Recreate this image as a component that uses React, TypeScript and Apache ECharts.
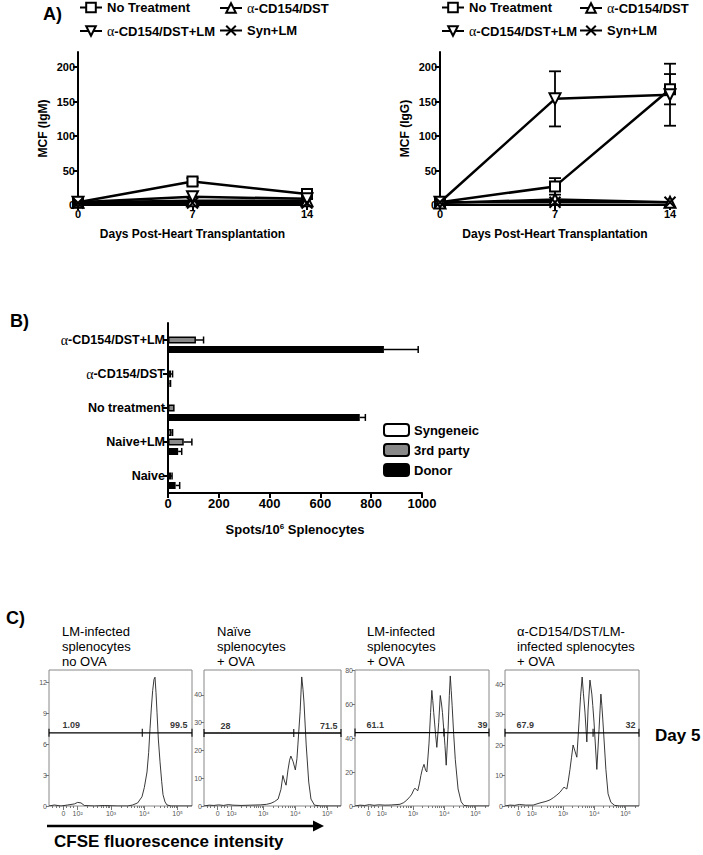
import React, { useEffect, useRef } from 'react';
import * as echarts from 'echarts';

const F = '"Liberation Sans", Arial, Helvetica, sans-serif';
const SERIF = '"Liberation Serif", "Times New Roman", serif';

// ---------- Panel A ----------
const daysA = [0, 7, 14];
const mcfTicks = [0, 50, 100, 150, 200];
const groupNames = ['No Treatment', 'α-CD154/DST', 'α-CD154/DST+LM', 'Syn+LM'];
const igmNoTreatment = [4, 34, 16];
const igmNoTreatmentErr = [0, 5, 3];
const igmCD154DST = [4, 6, 6];
const igmCD154DSTLM = [4, 12, 9];
const igmSynLM = [3, 3, 3];
const iggNoTreatment = [4, 27, 168];
const iggNoTreatmentErr = [0, 12, 22];
const iggCD154DST = [3, 8, 4];
const iggCD154DSTLM = [4, 154, 160];
const iggCD154DSTLMErr = [0, 40, 45];
const iggSynLM = [4, 4, 4];

// ---------- Panel B ----------
const elispotGroups = ['Naive', 'Naive+LM', 'No treatment', 'α-CD154/DST', 'α-CD154/DST+LM'];
const stimulators = ['Syngeneic', '3rd party', 'Donor'];
const syngeneic = [0, 14, 0, 0, 0];
const syngeneicErr = [0, 4, 0, 0, 0];
const thirdParty = [12, 62, 26, 12, 110];
const thirdPartyErr = [4, 32, 0, 6, 30];
const donor = [30, 40, 755, 6, 850];
const donorErr = [16, 14, 22, 4, 135];

// ---------- Panel C (x in log10 display units) ----------
const histTitles = [
  'LM-infected\nsplenocytes\nno OVA',
  'Naïve\nsplenocytes\n+ OVA',
  'LM-infected\nsplenocytes\n+ OVA',
  'α-CD154/DST/LM-\ninfected splenocytes\n+ OVA',
];
const histXMin = 1.14;
const histXMax = 5.43;
const histXTickPos = [1.57, 2, 3, 4, 5];
const histXTickLabels = ['0', '10²', '10³', '10⁴', '10⁵'];
const histYTicks = [
  [0, 3, 6, 9, 12],
  [0, 10, 20, 30, 40],
  [0, 20, 40, 60, 80],
  [0, 10, 20, 30, 40],
];
const histYMax = [13.2, 49, 80, 44.6];
const gateLevel = [7.1, 26.3, 43.2, 24];
const gateSplit = [3.94, 3.95, 3.99, 3.96];
const gateLeftPct = ['1.09', '28', '61.1', '67.9'];
const gateRightPct = ['99.5', '71.5', '39', '32'];

const histNoOVA = [[1.14,0],[1.3,0.1],[1.5,0],[1.7,0.1],[1.9,0.2],[2.0,0.35],[2.1,0.3],[2.2,0.05],[2.5,0],[2.8,0.05],[3.2,0],[3.5,0],[3.65,0.1],[3.8,0.3],[3.93,0.9],[4.0,1.8],[4.08,3.3],[4.13,5.2],[4.17,7.5],[4.21,9.5],[4.25,11.2],[4.29,12.3],[4.32,12.5],[4.35,11],[4.38,9.1],[4.42,6.5],[4.47,4.3],[4.52,2.4],[4.56,1.1],[4.62,0.4],[4.68,0.1],[4.8,0],[5.43,0]];
const histNaiveOVA = [[1.14,0],[1.3,0.3],[1.45,0.2],[1.6,0.4],[1.75,0.2],[1.9,0.5],[2.05,0.3],[2.3,0.2],[2.6,0.3],[2.9,0.4],[3.1,0.6],[3.24,1],[3.35,1.6],[3.46,2.5],[3.55,6],[3.61,11],[3.66,9],[3.71,7.5],[3.77,13],[3.82,16.5],[3.86,18],[3.93,16],[4.0,13],[4.05,17],[4.08,22],[4.15,34],[4.2,46.5],[4.24,42],[4.27,37.5],[4.34,22],[4.42,8.6],[4.49,2.5],[4.6,0.3],[4.8,0],[5.43,0]];
const histLMOVA = [[1.14,0],[1.3,0.5],[1.45,0.3],[1.6,0.8],[1.75,0.4],[1.9,0.7],[2.1,0.5],[2.3,0.6],[2.58,1],[2.7,2],[2.8,3.5],[2.9,5.5],[2.96,7],[3.02,9.5],[3.06,10.5],[3.11,9.5],[3.15,9],[3.2,13],[3.25,18],[3.3,22],[3.35,24.5],[3.4,21],[3.44,20],[3.51,37],[3.56,55],[3.6,68],[3.63,62],[3.66,55],[3.72,42],[3.76,34.5],[3.82,49],[3.87,65],[3.91,60],[3.94,55],[4.02,35.6],[4.06,24],[4.12,45],[4.16,65],[4.19,76.5],[4.22,68],[4.25,59],[4.3,42],[4.35,27.5],[4.44,10],[4.54,2.4],[4.63,0.3],[4.8,0],[5.43,0]];
const histCD154OVA = [[1.14,0],[1.3,0.3],[1.45,0.2],[1.6,0.5],[1.8,0.3],[2.04,0.3],[2.26,1],[2.45,1.5],[2.58,2],[2.7,2.8],[2.8,3.6],[2.9,4.5],[2.96,5.3],[3.03,6.2],[3.08,5.8],[3.12,5.6],[3.17,8.5],[3.22,12],[3.27,16],[3.32,20],[3.38,18],[3.44,16],[3.51,27.5],[3.56,36],[3.61,42.3],[3.65,37],[3.7,30.8],[3.76,21],[3.8,31.8],[3.86,41.3],[3.92,36.7],[3.95,33],[3.99,27.5],[4.08,12],[4.15,25],[4.21,36.7],[4.24,33],[4.27,28.5],[4.37,12],[4.44,4],[4.53,1.2],[4.65,0.2],[4.8,0],[5.43,0]];
const histograms = [histNoOVA, histNaiveOVA, histLMOVA, histCD154OVA];

// ---------- layout ----------
const histGrids = [
  { left: 49, width: 143 },
  { left: 204, width: 137 },
  { left: 355, width: 134 },
  { left: 505, width: 134 },
];
const histLabelInset = [[14, 4], [17, 3], [12, 1], [12, 3]];
const histTitleX = [62, 217, 367, 517];

const minorTicks: number[] = [1.25, 1.35, 1.45, 1.67, 1.77, 1.87];
for (let n = 2; n <= 5; n++) {
  for (let k = 2; k <= 9; k++) {
    const v = n + Math.log10(k);
    if (v < histXMax) minorTicks.push(v);
  }
}

const boldText = (size: number) => ({ fontFamily: F, fontWeight: 'bold' as const, fontSize: size, color: '#000' });
const fmtAlpha = (s: string) => s.replace('α', '{a|α}');
const alphaRich = (size: number) => ({ a: { fontFamily: SERIF, fontSize: size, fontWeight: 'normal', color: '#000' } });

const symbolsA = ['rect', 'triangle', 'triangle', 'path://M0,0L10,10M10,0L0,10'];
const rotA = [0, 0, 180, 0];

function lineSeriesA(k: number, values: number[], axisIdx: number) {
  return {
    type: 'line',
    name: groupNames[k],
    xAxisIndex: axisIdx,
    yAxisIndex: axisIdx,
    data: daysA.map((d, i) => [d, values[i]]),
    symbol: symbolsA[k],
    symbolRotate: rotA[k],
    symbolSize: k === 0 ? 10 : 11,
    clip: false,
    lineStyle: { color: '#000', width: 2.5 },
    itemStyle: { color: k === 3 ? '#000' : '#fff', borderColor: '#000', borderWidth: 2 },
    z: 3,
  };
}

function vErrSeries(axisIdx: number, values: number[], errs: number[]) {
  return {
    type: 'custom',
    xAxisIndex: axisIdx,
    yAxisIndex: axisIdx,
    encode: { x: 0, y: 1 },
    clip: false,
    z: 2,
    data: daysA.map((d, i) => [d, values[i], errs[i]]).filter((r) => r[2] > 0),
    renderItem: (_p: any, api: any) => {
      const x = api.value(0), y = api.value(1), e = api.value(2);
      const t = api.coord([x, y + e]);
      const b = api.coord([x, y - e]);
      const st = { stroke: '#000', lineWidth: 1.8 };
      return {
        type: 'group',
        children: [
          { type: 'line', shape: { x1: t[0], y1: t[1], x2: b[0], y2: b[1] }, style: st },
          { type: 'line', shape: { x1: t[0] - 6, y1: t[1], x2: t[0] + 6, y2: t[1] }, style: st },
          { type: 'line', shape: { x1: b[0] - 6, y1: b[1], x2: b[0] + 6, y2: b[1] }, style: st },
        ],
      };
    },
  };
}

function hErrSeries(values: number[], errs: number[], offset: number) {
  return {
    type: 'custom',
    xAxisIndex: 2,
    yAxisIndex: 2,
    encode: { x: 0, y: 1 },
    clip: false,
    z: 3,
    data: values.map((v, i) => [v, i, errs[i]]).filter((r) => r[2] > 0),
    renderItem: (_p: any, api: any) => {
      const v = api.value(0), c = api.value(1), e = api.value(2);
      const p0 = api.coord([v, c]);
      const p1 = api.coord([v + e, c]);
      const y = p0[1] + offset;
      const st = { stroke: '#000', lineWidth: 1.5 };
      return {
        type: 'group',
        children: [
          { type: 'line', shape: { x1: p0[0], y1: y, x2: p1[0], y2: y }, style: st },
          { type: 'line', shape: { x1: p1[0], y1: y - 3.5, x2: p1[0], y2: y + 3.5 }, style: st },
        ],
      };
    },
  };
}

function gText(size: number, weight: string) {
  return { fontFamily: F, fontSize: size, fontWeight: weight, fill: '#000' };
}

function buildOption() {
  const legendSlots = [
    [79, 1], [219, 1], [79, 24], [219, 24],
    [441, 1], [579, 1], [441, 24], [579, 24],
  ];
  const legends: any[] = legendSlots.map((pos, i) => ({
    data: [groupNames[i % 4]],
    left: pos[0],
    top: pos[1],
    padding: 0,
    itemWidth: 22,
    itemHeight: 12,
    selectedMode: false,
    formatter: fmtAlpha,
    textStyle: { ...boldText(13), rich: alphaRich(14) },
  }));
  legends.push({
    data: stimulators,
    orient: 'vertical',
    left: 383,
    top: 423,
    padding: 0,
    itemWidth: 25,
    itemHeight: 12,
    itemGap: 6,
    selectedMode: false,
    textStyle: boldText(13),
  });

  const grids: any[] = [
    { left: 78, top: 52, width: 229, height: 153 },
    { left: 440, top: 52, width: 230, height: 153 },
    { left: 168, top: 323, width: 254, height: 170 },
    ...histGrids.map((g) => ({
      left: g.left, top: 670, width: g.width, height: 136,
      show: true, borderColor: '#888', borderWidth: 1, backgroundColor: 'transparent',
    })),
  ];

  const aXAxis = (gi: number) => ({
    type: 'value', gridIndex: gi, min: 0, max: 14, interval: 7,
    axisLine: { show: true, lineStyle: { color: '#000', width: 2 } },
    axisTick: { show: true, length: 5, lineStyle: { color: '#000', width: 2 } },
    axisLabel: { ...boldText(11), margin: 3 },
    splitLine: { show: false },
    name: 'Days Post-Heart Transplantation', nameLocation: 'middle', nameGap: 23,
    nameTextStyle: boldText(12),
  });
  const aYAxis = (gi: number, name: string) => ({
    type: 'value', gridIndex: gi, min: 0, max: 222,
    axisLine: { show: true, lineStyle: { color: '#000', width: 2 } },
    axisTick: { show: true, length: 5, customValues: mcfTicks, lineStyle: { color: '#000', width: 2 } },
    axisLabel: { ...boldText(11), margin: 3, customValues: mcfTicks },
    splitLine: { show: false },
    name, nameLocation: 'middle', nameGap: 29, nameTextStyle: boldText(12),
  });

  const xAxes: any[] = [
    aXAxis(0),
    aXAxis(1),
    {
      type: 'value', gridIndex: 2, min: 0, max: 1000, interval: 200,
      axisLine: { show: true, lineStyle: { color: '#000', width: 2 } },
      axisTick: { show: true, length: 5, lineStyle: { color: '#000', width: 2 } },
      axisLabel: { ...boldText(13), margin: 4, formatter: (v: number) => String(v) },
      splitLine: { show: false },
      name: 'Spots/10{sup|6} Splenocytes', nameLocation: 'middle', nameGap: 29,
      nameTextStyle: {
        ...boldText(13),
        rich: { sup: { fontFamily: F, fontWeight: 'bold', fontSize: 8, color: '#000', verticalAlign: 'top', padding: [0, 0, 6, 0] } },
      },
    },
  ];
  const yAxes: any[] = [
    aYAxis(0, 'MCF (IgM)'),
    aYAxis(1, 'MCF (IgG)'),
    {
      type: 'category', gridIndex: 2, data: elispotGroups,
      axisLine: { show: true, lineStyle: { color: '#000', width: 2 } },
      axisTick: { show: true, alignWithLabel: true, length: 5, lineStyle: { color: '#000', width: 2 } },
      axisLabel: { ...boldText(12.5), margin: 3, formatter: fmtAlpha, rich: alphaRich(14) },
      splitLine: { show: false },
    },
  ];

  histGrids.forEach((_, i) => {
    xAxes.push({
      type: 'value', gridIndex: 3 + i, min: histXMin, max: histXMax, position: 'bottom',
      axisLine: { show: false },
      axisTick: { show: true, length: 4, customValues: histXTickPos, lineStyle: { color: '#777', width: 1 } },
      axisLabel: {
        customValues: histXTickPos, fontFamily: F, fontSize: 7, color: '#555', margin: 4,
        formatter: (v: number) => {
          const j = histXTickPos.findIndex((p) => Math.abs(p - v) < 1e-6);
          return j >= 0 ? histXTickLabels[j] : '';
        },
      },
      splitLine: { show: false },
    });
    yAxes.push({
      type: 'value', gridIndex: 3 + i, min: 0, max: histYMax[i],
      axisLine: { show: false },
      axisTick: { show: true, length: 3, customValues: histYTicks[i], lineStyle: { color: '#777', width: 1 } },
      axisLabel: { customValues: histYTicks[i], fontFamily: F, fontSize: 7, color: '#555', margin: 2 },
      splitLine: { show: false },
    });
  });
  histGrids.forEach((_, i) => {
    xAxes.push({
      type: 'value', gridIndex: 3 + i, min: histXMin, max: histXMax, position: 'bottom',
      axisLine: { show: false },
      axisTick: { show: true, length: 2, customValues: minorTicks, lineStyle: { color: '#777', width: 1 } },
      axisLabel: { show: false },
      splitLine: { show: false },
    });
  });

  const series: any[] = [
    lineSeriesA(0, igmNoTreatment, 0),
    lineSeriesA(1, igmCD154DST, 0),
    lineSeriesA(2, igmCD154DSTLM, 0),
    lineSeriesA(3, igmSynLM, 0),
    vErrSeries(0, igmNoTreatment, igmNoTreatmentErr),
    lineSeriesA(0, iggNoTreatment, 1),
    lineSeriesA(1, iggCD154DST, 1),
    lineSeriesA(2, iggCD154DSTLM, 1),
    lineSeriesA(3, iggSynLM, 1),
    vErrSeries(1, iggNoTreatment, iggNoTreatmentErr),
    vErrSeries(1, iggCD154DSTLM, iggCD154DSTLMErr),
  ];

  const barColors = ['#ffffff', '#888888', '#000000'];
  const barValues = [syngeneic, thirdParty, donor];
  const barErrs = [syngeneicErr, thirdPartyErr, donorErr];
  const barOffsets = [-9.45, 0, 9.45];
  stimulators.forEach((name, k) => {
    series.push({
      type: 'bar', name, xAxisIndex: 2, yAxisIndex: 2,
      data: barValues[k], barWidth: 7, barGap: '35%',
      itemStyle: { color: barColors[k], borderColor: '#000', borderWidth: 1.5 },
      z: 2,
    });
  });
  stimulators.forEach((_, k) => series.push(hErrSeries(barValues[k], barErrs[k], barOffsets[k])));

  histograms.forEach((h, i) => {
    series.push({
      type: 'line', xAxisIndex: 3 + i, yAxisIndex: 3 + i, data: h,
      symbol: 'none', lineStyle: { color: '#222', width: 0.9 }, z: 2,
    });
    series.push({
      type: 'line', xAxisIndex: 3 + i, yAxisIndex: 3 + i,
      data: [[histXMin, gateLevel[i]], [histXMax, gateLevel[i]]],
      symbol: 'none', lineStyle: { color: '#000', width: 1.3 }, z: 3,
    });
    series.push({
      type: 'scatter', xAxisIndex: 3 + i, yAxisIndex: 3 + i, clip: false,
      data: [[histXMin, gateLevel[i]], [gateSplit[i], gateLevel[i]], [histXMax, gateLevel[i]]],
      symbol: 'rect', symbolSize: [1.3, 8], itemStyle: { color: '#000' }, z: 3,
    });
    series.push({
      type: 'scatter', xAxisIndex: 3 + i, yAxisIndex: 3 + i, clip: false,
      symbolSize: 1, itemStyle: { color: 'transparent' }, z: 4,
      label: { show: true, ...boldText(9), verticalAlign: 'middle' },
      data: [
        { value: [histXMin, gateLevel[i]], label: { formatter: gateLeftPct[i], position: [histLabelInset[i][0], -7], align: 'left' } },
        { value: [histXMax, gateLevel[i]], label: { formatter: gateRightPct[i], position: [-histLabelInset[i][1], -7], align: 'right' } },
      ],
    });
  });

  const graphic: any[] = [
    { type: 'text', x: 43, y: 14, style: { text: 'A)', ...gText(18, 'bold'), verticalAlign: 'middle' } },
    { type: 'text', x: 10, y: 321, style: { text: 'B)', ...gText(18, 'bold'), verticalAlign: 'middle' } },
    { type: 'text', x: 6, y: 618, style: { text: 'C)', ...gText(18, 'bold'), verticalAlign: 'middle' } },
    ...histTitles.map((t, i) => ({
      type: 'text', x: histTitleX[i], y: 624,
      style: { text: t, ...gText(13, 'normal'), lineHeight: 15, verticalAlign: 'top' },
    })),
    { type: 'text', x: 655, y: 735, style: { text: 'Day 5', ...gText(17, 'bold'), verticalAlign: 'middle' } },
    { type: 'line', shape: { x1: 47, y1: 826, x2: 316, y2: 826 }, style: { stroke: '#000', lineWidth: 2.5 } },
    { type: 'polygon', shape: { points: [[313, 820.5], [324, 826], [313, 831.5]] }, style: { fill: '#000' } },
    { type: 'text', x: 54, y: 841, style: { text: 'CFSE fluorescence intensity', ...gText(17, 'bold'), verticalAlign: 'middle' } },
  ];

  return {
    animation: false,
    backgroundColor: '#fff',
    legend: legends,
    grid: grids,
    xAxis: xAxes,
    yAxis: yAxes,
    series,
    graphic,
  };
}

export default function App() {
  const ref = useRef<HTMLDivElement>(null);
  useEffect(() => {
    document.body.style.margin = '0';
    const chart = echarts.init(ref.current!, null, { renderer: 'svg' });
    chart.setOption(buildOption() as any);
    return () => chart.dispose();
  }, []);
  return <div ref={ref} style={{ width: 703, height: 855 }} />;
}
